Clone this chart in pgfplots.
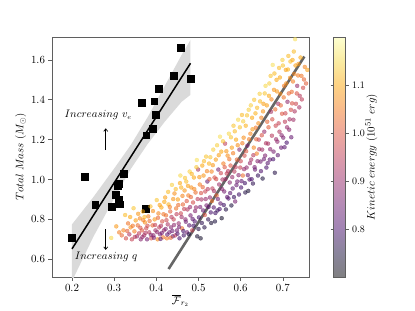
\documentclass[border=0pt]{standalone}
\usepackage{pgfplots}
\usepackage{pgfplotstable}
\pgfplotsset{compat=1.18}
\usetikzlibrary{arrows.meta}

\definecolor{framegray}{RGB}{95,95,95}
\definecolor{bandgray}{RGB}{218,218,218}
\definecolor{linegray}{RGB}{75,75,75}

\pgfplotsset{
  colormap={inferno}{rgb255=(0,0,4) rgb255=(22,11,57) rgb255=(66,10,104) rgb255=(106,23,110) rgb255=(147,38,103) rgb255=(188,55,84) rgb255=(221,81,58) rgb255=(243,120,25) rgb255=(252,165,10) rgb255=(246,215,70) rgb255=(252,255,164)},
  colormap={infwash}{rgb255=(128,128,130) rgb255=(138,133,156) rgb255=(161,132,180) rgb255=(180,139,182) rgb255=(201,146,179) rgb255=(221,155,170) rgb255=(238,168,157) rgb255=(249,187,140) rgb255=(253,210,132) rgb255=(250,235,162) rgb255=(253,255,209)}
}

\pgfplotstableread{
x y
0.200 0.709
0.230 1.015
0.255 0.873
0.295 0.863
0.303 0.923
0.308 0.970
0.311 0.981
0.311 0.898
0.313 0.876
0.322 1.028
0.374 0.853
0.366 1.386
0.376 1.222
0.391 1.256
0.395 1.393
0.398 1.324
0.405 1.455
0.441 1.520
0.458 1.662
0.481 1.506
}\squares

\pgfplotstableread{
x y c
0.293 0.707 1.15
0.305 0.765 1.08
0.312 0.735 1.05
0.318 0.720 1.02
0.322 0.745 1.06
0.326 0.822 1.12
0.328 0.705 0.98
0.333 0.780 1.04
0.336 0.725 0.93
0.339 0.760 1.07
0.342 0.700 0.96
0.346 0.856 1.13
0.348 0.740 1.05
0.351 0.795 1.09
0.354 0.715 0.90
0.356 0.770 1.03
0.359 0.730 0.95
0.361 0.805 1.06
0.363 0.700 0.88
0.366 0.745 1.00
0.368 0.840 1.10
0.371 0.720 0.92
0.373 0.785 1.07
0.376 0.755 0.97
0.378 0.700 0.86
0.381 0.815 1.05
0.383 0.735 0.94
0.386 0.865 1.12
0.388 0.705 0.98
0.391 0.770 1.02
0.393 0.720 0.89
0.396 0.800 1.08
0.398 0.745 0.91
0.401 0.897 1.13
0.403 0.700 1.06
0.405 0.830 1.06
0.407 0.760 0.95
0.409 0.725 0.87
0.412 0.860 1.10
0.414 0.790 0.99
0.416 0.710 1.04
0.418 0.745 0.90
0.421 0.910 1.09
0.423 0.820 1.03
0.425 0.705 1.05
0.427 0.775 0.93
0.429 0.875 1.11
0.431 0.735 0.85
0.433 0.840 1.01
0.435 0.760 0.88
0.437 0.973 1.14
0.439 0.715 0.82
0.441 0.800 0.96
0.443 0.930 1.07
0.445 0.720 0.95
0.447 0.855 1.04
0.449 0.745 0.86
0.451 0.900 1.09
0.453 0.780 0.90
0.455 0.705 0.80
0.457 1.020 1.15
0.458 0.830 0.97
0.459 0.960 1.11
0.461 0.755 1.03
0.463 0.875 1.02
0.465 0.720 0.79
0.467 0.945 1.08
0.469 0.800 0.88
0.471 0.990 1.12
0.473 0.735 0.85
0.474 0.850 0.93
0.476 0.920 1.05
0.478 0.770 0.82
0.479 1.040 1.14
0.481 0.820 0.86
0.483 0.960 1.07
0.485 0.745 0.96
0.487 0.885 0.98
0.489 1.010 1.10
0.491 0.790 0.81
0.493 0.935 1.03
0.494 0.860 0.90
0.496 1.098 1.16
0.497 0.715 0.74
0.499 1.050 0.92
0.501 0.810 0.80
0.503 0.975 1.05
0.505 0.705 0.73
0.507 0.900 0.92
0.509 1.070 1.10
0.511 0.845 0.84
0.512 1.020 1.08
0.514 0.760 0.76
0.516 0.940 0.97
0.518 1.115 1.13
0.519 0.870 0.86
0.521 0.990 0.84
0.523 0.800 0.77
0.525 1.080 1.11
0.527 0.910 0.89
0.529 0.835 0.80
0.531 1.040 1.06
0.533 0.955 0.95
0.535 1.150 1.14
0.536 0.860 0.82
0.538 1.010 0.99
0.539 0.790 0.75
0.541 1.100 1.09
0.543 0.920 1.02
0.545 0.845 0.78
0.547 1.050 0.86
0.549 0.975 0.91
0.551 1.215 1.16
0.552 0.880 0.83
0.554 1.140 1.10
0.555 0.806 0.73
0.557 1.000 0.93
0.559 1.080 1.05
0.561 0.940 0.86
0.563 1.180 0.95
0.565 0.850 0.76
0.567 1.030 0.96
0.569 1.120 1.07
0.571 0.905 0.81
0.572 1.230 1.15
0.574 0.985 0.88
0.576 1.070 1.00
0.578 0.870 0.75
0.579 1.160 1.09
0.581 0.955 0.83
0.583 1.270 1.13
0.585 1.040 0.94
0.587 0.890 0.86
0.589 1.200 1.10
0.591 1.100 1.02
0.592 0.990 0.85
0.594 1.300 1.15
0.596 0.925 0.79
0.597 1.150 0.88
0.599 1.060 0.96
0.601 0.960 0.80
0.603 1.324 1.12
0.605 1.020 1.03
0.607 1.210 1.07
0.609 1.120 0.98
0.611 0.935 0.76
0.612 1.270 1.11
0.614 1.060 0.89
0.616 1.170 0.87
0.618 0.943 0.74
0.619 1.350 1.14
0.621 1.000 0.82
0.623 1.230 1.06
0.625 1.100 0.92
0.627 1.310 1.10
0.629 0.980 0.77
0.631 1.160 1.06
0.632 1.400 1.13
0.634 1.050 0.84
0.636 1.260 1.04
0.638 1.130 1.05
0.639 1.360 1.12
0.641 1.020 0.78
0.643 1.200 0.95
0.645 1.430 1.14
0.647 1.090 0.85
0.649 1.310 1.06
0.651 1.150 0.91
0.652 1.005 0.75
0.654 1.380 1.09
0.656 1.240 0.90
0.658 1.120 0.87
0.659 1.470 1.15
0.661 1.060 0.80
0.663 1.290 1.02
0.665 1.180 0.92
0.667 1.420 1.10
0.669 1.100 0.83
0.671 1.520 1.13
0.672 1.340 0.92
0.674 1.220 0.94
0.676 1.575 1.16
0.678 1.140 0.86
0.679 1.450 1.08
0.681 1.034 0.76
0.683 1.270 0.97
0.685 1.500 1.10
0.687 1.190 0.89
0.689 1.380 0.91
0.691 1.560 1.12
0.692 1.240 0.93
0.694 1.430 1.07
0.696 1.160 0.84
0.698 1.330 1.00
0.699 1.600 1.14
0.701 1.210 0.86
0.703 1.470 1.05
0.705 1.290 0.95
0.707 1.550 1.09
0.709 1.185 0.80
0.711 1.390 0.89
0.713 1.620 1.12
0.715 1.250 0.88
0.717 1.510 1.07
0.719 1.350 0.98
0.721 1.440 1.03
0.723 1.600 1.10
0.725 1.300 0.91
0.727 1.530 1.06
0.729 1.704 1.16
0.731 1.380 0.97
0.734 1.470 0.90
0.737 1.580 1.08
0.740 1.420 0.94
0.744 1.520 1.04
0.748 1.460 0.98
0.752 1.565 1.06
0.758 1.550 1.09
0.331 0.742 1.01
0.338 0.812 1.10
0.344 0.768 1.04
0.349 0.712 0.94
0.357 0.828 1.08
0.362 0.758 0.99
0.367 0.712 0.90
0.369 0.796 1.05
0.372 0.812 1.11
0.374 0.732 0.93
0.379 0.768 0.98
0.384 0.792 1.03
0.387 0.722 0.88
0.392 0.842 1.07
0.394 0.708 0.86
0.397 0.772 0.96
0.402 0.736 0.89
0.404 0.808 1.02
0.408 0.872 1.09
0.410 0.702 0.82
0.411 0.768 0.93
0.413 0.732 0.86
0.417 0.826 1.04
0.419 0.888 1.10
0.422 0.752 0.87
0.424 0.796 0.97
0.426 0.724 0.83
0.428 0.938 1.12
0.432 0.862 1.05
0.434 0.708 1.02
0.436 0.812 0.94
0.438 0.742 0.85
0.440 0.902 1.08
0.442 0.772 0.89
0.446 0.952 1.12
0.448 0.826 0.95
0.450 0.728 0.81
0.452 0.872 1.03
0.454 0.762 0.86
0.456 0.982 1.10
0.460 0.812 0.91
0.462 0.918 1.06
0.464 0.742 0.80
0.466 0.852 0.96
0.468 1.008 1.13
0.470 0.788 0.85
0.472 0.892 1.00
0.475 0.968 1.09
0.477 0.726 0.76
0.480 0.862 0.90
0.482 0.912 1.02
0.484 1.028 1.11
0.486 0.802 0.83
0.488 0.768 0.79
0.490 0.952 1.06
0.492 0.842 0.88
0.495 1.062 1.13
0.498 0.902 0.95
0.500 0.752 0.76
0.502 1.012 1.08
0.504 0.862 0.86
0.506 0.932 0.99
0.508 0.782 0.77
0.510 0.962 1.02
0.513 1.092 1.12
0.515 0.822 0.99
0.517 0.902 0.90
0.520 1.042 1.06
0.522 0.952 0.94
0.524 0.862 0.83
0.526 1.002 1.01
0.528 1.112 1.13
0.530 0.782 0.74
0.532 0.892 1.04
0.534 1.072 1.08
0.537 0.942 0.92
0.540 0.832 0.79
0.542 1.002 0.98
0.544 1.172 1.14
0.546 0.902 0.85
0.548 1.122 1.09
0.550 0.852 0.80
0.553 1.032 0.97
0.556 0.952 0.88
0.558 1.192 1.13
0.560 0.872 0.79
0.562 1.062 1.00
0.564 1.002 0.91
0.566 1.142 1.08
0.568 0.912 0.83
0.570 1.042 0.94
0.573 1.102 1.04
0.575 0.932 0.82
0.577 1.212 1.13
0.580 1.012 0.90
0.582 1.132 1.05
0.584 0.912 0.78
0.586 1.242 1.12
0.588 1.062 0.95
0.590 0.972 0.84
0.593 1.172 1.07
0.595 1.022 0.88
0.598 1.262 1.13
0.600 1.092 0.97
0.602 0.992 0.83
0.604 1.182 1.05
0.606 1.292 1.14
0.608 1.052 0.90
0.610 0.982 0.79
0.613 1.142 1.00
0.615 1.322 1.13
0.617 1.022 0.84
0.620 1.202 1.05
0.622 1.082 0.90
0.624 1.372 1.14
0.626 1.002 0.80
0.628 1.252 1.08
0.630 1.122 0.94
0.633 1.062 0.86
0.635 1.332 1.11
0.637 1.202 1.01
0.640 1.092 0.88
0.642 1.282 1.07
0.644 1.152 0.93
0.646 1.392 1.12
0.648 1.042 0.81
0.650 1.222 0.99
0.653 1.342 1.08
0.655 1.102 0.85
0.657 1.432 1.13
0.660 1.182 0.93
0.662 1.372 1.09
0.664 1.082 0.82
0.666 1.262 1.01
0.668 1.482 1.14
0.670 1.152 0.88
0.673 1.402 1.06
0.675 1.302 0.99
0.677 1.102 0.80
0.680 1.532 1.12
0.682 1.352 1.03
0.684 1.202 0.90
0.686 1.442 1.08
0.688 1.122 0.83
0.690 1.282 0.96
0.693 1.512 1.10
0.695 1.372 1.02
0.697 1.222 0.88
0.700 1.572 1.13
0.702 1.412 1.04
0.704 1.162 0.82
0.706 1.332 0.97
0.708 1.482 1.07
0.710 1.262 0.90
0.712 1.552 1.11
0.714 1.432 1.02
0.716 1.302 0.92
0.718 1.592 1.12
0.720 1.212 0.84
0.722 1.382 0.99
0.724 1.492 1.05
0.726 1.642 1.12
0.728 1.342 0.93
0.730 1.572 1.09
0.733 1.432 0.99
0.736 1.522 1.05
0.739 1.362 0.92
0.742 1.612 1.10
0.745 1.402 0.95
0.750 1.502 1.02
0.755 1.482 1.01
}\cloud

\begin{document}
\begin{tikzpicture}
\begin{axis}[
  name=ax,
  scale only axis,
  width=257bp, height=240bp,
  xmin=0.1526, xmax=0.762,
  ymin=0.511, ymax=1.715,
  xtick={0.2,0.3,0.4,0.5,0.6,0.7},
  ytick={0.6,0.8,1.0,1.2,1.4,1.6},
  xticklabel style={/pgf/number format/.cd,fixed,fixed zerofill,precision=1},
  yticklabel style={/pgf/number format/.cd,fixed,fixed zerofill,precision=1},
  tick label style={font=\fontsize{10.5}{12}\selectfont},
  label style={font=\fontsize{11}{13}\selectfont},
  tick align=outside, tick pos=left,
  major tick length=3.5bp,
  every tick/.style={framegray, line width=0.7bp},
  axis line style={framegray, line width=0.9bp},
  xlabel={$\overline{\mathcal{F}}_{r_2}$},
  ylabel={$Total\ Mass\ (M_\odot)$},
  xlabel style={yshift=3bp},
  ylabel style={yshift=-2bp},
  colormap name=inferno,
  point meta min=0.7, point meta max=1.2,
  colorbar,
  colorbar style={
    colormap name=infwash,
    scale only axis,
    width=12bp, height=240bp,
    at={(parent axis.north east)}, anchor=north west, xshift=16bp,
    ytick={0.8,0.9,1.0,1.1},
    yticklabel style={/pgf/number format/.cd,fixed,fixed zerofill,precision=1},
    tick label style={font=\fontsize{10}{12}\selectfont},
    yticklabel pos=right,
    ylabel near ticks,
    ylabel={$Kinetic\ energy\ (10^{51}\ erg)$},
    ylabel style={font=\fontsize{11}{13}\selectfont, yshift=6bp},
    tick align=outside,
    major tick length=3bp,
    axis line style={framegray, line width=0.9bp},
  },
  clip=true,
]
% confidence band
\addplot[fill=bandgray, draw=none, forget plot] coordinates {
 (0.2,0.775) (0.25,0.91) (0.30,1.055) (0.34,1.175) (0.38,1.315) (0.42,1.47) (0.46,1.625) (0.481,1.70)
 (0.481,1.425) (0.46,1.39) (0.42,1.29) (0.38,1.18) (0.34,1.055) (0.30,0.905) (0.25,0.71) (0.2,0.49)
} -- cycle;
% regression line
\addplot[black, line width=1.5bp, forget plot] coordinates {(0.2,0.652) (0.481,1.583)};
% squares
\addplot[only marks, mark=square*, mark size=3.4bp, mark options={fill=black, draw=black}, forget plot] table[x=x,y=y] {\squares};
% cloud
\addplot[scatter, only marks, mark=*, mark size=2.0bp,
  scatter/use mapped color={draw=mapped color, fill=mapped color},
  mark options={fill opacity=0.55, draw opacity=0.55, line width=0.3bp},
  point meta=explicit, forget plot] table[x=x,y=y,meta=c] {\cloud};
% grey line
\addplot[linegray, line width=2.6bp, opacity=0.85, forget plot] coordinates {(0.429,0.551) (0.751,1.617)};
% annotations
\node[font=\fontsize{10.5}{12}\selectfont] at (axis cs:0.262,1.325) {$Increasing\ v_e$};
\node[font=\fontsize{10.5}{12}\selectfont] at (axis cs:0.281,0.612) {$Increasing\ q$};
\draw[-{Straight Barb[length=2.5bp,width=4bp]}, line width=0.7bp] (axis cs:0.28,1.148) -- (axis cs:0.28,1.257);
\draw[-{Straight Barb[length=2.5bp,width=4bp]}, line width=0.7bp] (axis cs:0.28,0.750) -- (axis cs:0.28,0.647);
\end{axis}
\path ([xshift=-52bp,yshift=-34bp]ax.south west) rectangle ([xshift=106bp,yshift=37bp]ax.north east);
\end{tikzpicture}
\end{document}
